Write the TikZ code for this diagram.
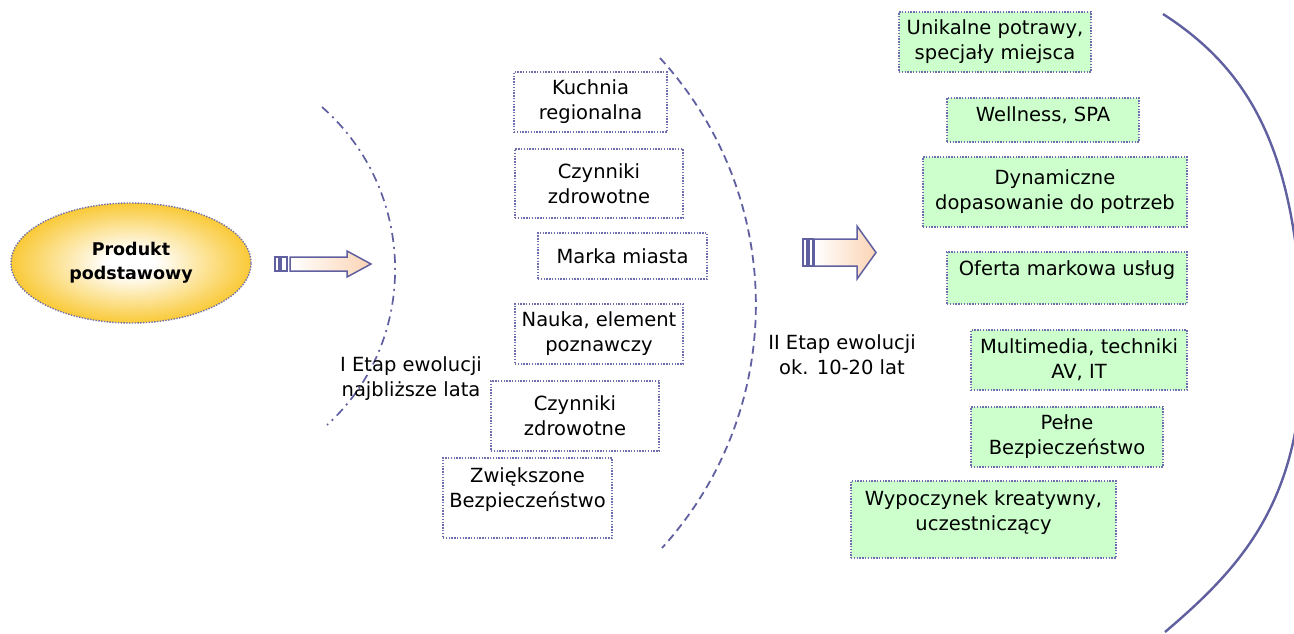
\documentclass[tikz,border=0pt]{standalone}
\usepackage{fontspec}
\setmainfont{DejaVu Sans}
\usetikzlibrary{shapes.geometric}

\definecolor{linec}{RGB}{96,96,160}
\definecolor{dotc}{RGB}{110,110,175}
\definecolor{greenfill}{RGB}{204,255,204}
\definecolor{peach}{RGB}{251,212,180}
\definecolor{gold}{RGB}{249,196,35}

\pgfdeclareradialshading{glow}{\pgfpoint{0bp}{0bp}}{%
  color(0bp)=(white); color(5bp)=(white); color(27bp)=(gold); color(50bp)=(gold)}

\tikzset{
  txt/.style={font=\fontsize{19.5}{25}\selectfont, align=center, inner sep=0pt},
  itembox/.style={txt, draw=dotc, line width=1.4pt, dash pattern=on 1.4pt off 1.4pt,
    fill=white, rectangle},
  greenbox/.style={itembox, fill=greenfill},
  blockarrow/.style={draw=linec, line width=1.5pt, left color=white, right color=peach,
    line join=miter},
  stripe/.style={draw=linec, line width=1.5pt, fill=white},
  stageline/.style={draw=linec, line width=1.6pt},
}

\begin{document}
\begin{tikzpicture}[x=1pt, y=-1pt]
  \useasboundingbox (0,0) rectangle (1294,633);
  \fill[white] (0,0) rectangle (1294,633);

  % core product
  \node[ellipse, minimum width=240pt, minimum height=120pt, shading=glow,
        draw=dotc, line width=1.4pt, dash pattern=on 1.4pt off 1.4pt,
        font=\fontsize{17.5}{24}\selectfont\bfseries, align=center, inner sep=0pt]
        (core) at (131,263) {Produkt\\podstawowy};

  % first arrow
  \draw[stripe] (275,257) rectangle (279,271);
  \draw[stripe] (281,257) rectangle (287,271);
  \draw[blockarrow] (290,257) -- (347,257) -- (347,251) -- (371,264) -- (347,277)
        -- (347,271) -- (290,271) -- cycle;

  % stage I boundary
  \draw[stageline, line width=1.7pt, dash pattern=on 9pt off 5pt on 2pt off 5pt]
        (322,107) .. controls (416.8,190.3) and (420.4,340.1) .. (327,425);
  \node[txt] (stage1) at (411,379) {I Etap ewolucji\\najbliższe lata};

  % stage I items
  \node[itembox, minimum width=153pt, minimum height=60pt] (kuchnia) at (590.5,102)
        {Kuchnia\\regionalna};
  \node[itembox, minimum width=168pt, minimum height=69pt] (zdrowie1) at (599,183.5)
        {Czynniki\\zdrowotne};
  \node[itembox, minimum width=169pt, minimum height=46pt] (marka) at (622.5,256)
        {Marka miasta};
  \node[itembox, minimum width=168pt, minimum height=60pt] (nauka) at (599,334)
        {Nauka, element\\poznawczy};
  \node[itembox, minimum width=168pt, minimum height=70pt] (zdrowie2) at (575,416)
        {Czynniki\\zdrowotne};
  \node[itembox, minimum width=169pt, minimum height=80pt, text depth=21pt]
        (bezp1) at (527.5,498) {Zwiększone\\Bezpieczeństwo};

  % stage II boundary
  \draw[stageline, line width=1.8pt, dash pattern=on 8pt off 5pt]
        (660,58) .. controls (786.7,196.5) and (788.3,408.7) .. (662,548);

  % second arrow
  \draw[stripe] (803,239) rectangle (807,266);
  \draw[stripe] (809,239) rectangle (813,266);
  \draw[blockarrow] (814,239) -- (857,239) -- (857,226) -- (876,252.5) -- (857,279)
        -- (857,266) -- (814,266) -- cycle;
  \node[txt] (stage2) at (842,355) {II Etap ewolucji\\ok. 10-20 lat};

  % stage II items
  \node[greenbox, minimum width=192pt, minimum height=60pt] (potrawy) at (995,42)
        {Unikalne potrawy,\\specjały miejsca};
  \node[greenbox, minimum width=192pt, minimum height=44pt, text depth=11pt]
        (spa) at (1043,120) {Wellness, SPA};
  \node[greenbox, minimum width=264pt, minimum height=70pt] (dyn) at (1055,192)
        {Dynamiczne\\dopasowanie do potrzeb};
  \node[greenbox, minimum width=240pt, minimum height=52pt, text depth=19pt]
        (oferta) at (1067,278) {Oferta markowa usług};
  \node[greenbox, minimum width=216pt, minimum height=60pt] (media) at (1079,360)
        {Multimedia, techniki\\AV, IT};
  \node[greenbox, minimum width=192pt, minimum height=60pt] (bezp2) at (1067,437)
        {Pełne\\Bezpieczeństwo};
  \node[greenbox, minimum width=265pt, minimum height=77pt, text depth=17pt]
        (wypoczynek) at (983.5,519.5) {Wypoczynek kreatywny,\\uczestniczący};

  % outer boundary
  \draw[stageline, line width=2.4pt]
        (1163,14) .. controls (1250,70) and (1295,150) .. (1302,320)
        .. controls (1309,490) and (1250,560) .. (1165,632);
\end{tikzpicture}
\end{document}
